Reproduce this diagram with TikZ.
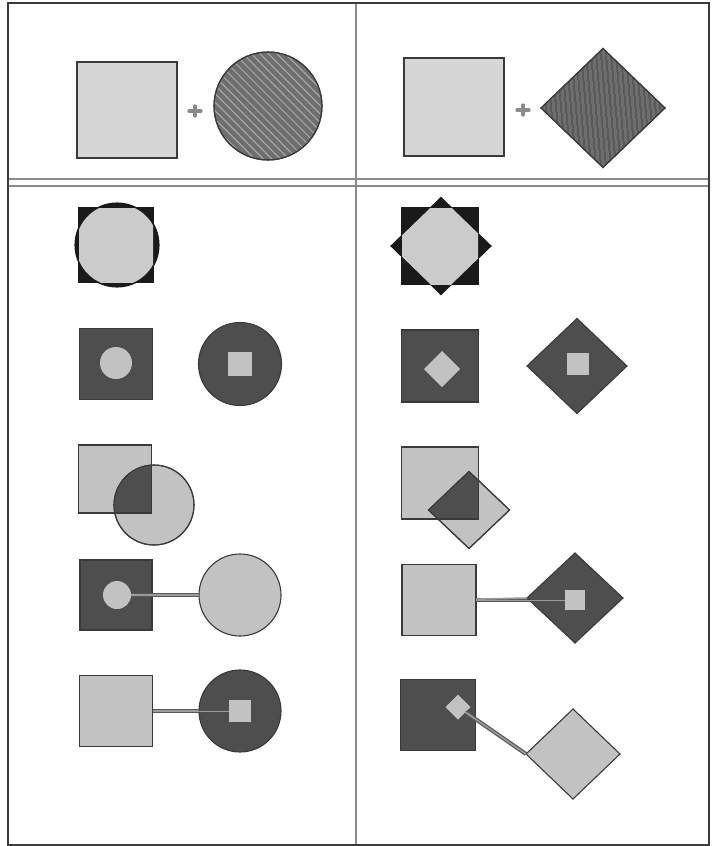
\documentclass[tikz,border=0pt]{standalone}
\usetikzlibrary{shapes.geometric,patterns,patterns.meta}
\definecolor{lite}{HTML}{C2C2C2}
\definecolor{litetop}{HTML}{D6D6D6}
\definecolor{dark}{HTML}{4E4E4E}
\definecolor{blk}{HTML}{1A1A1A}
\definecolor{edge}{HTML}{3A3A3A}
\definecolor{framec}{HTML}{8A8A8A}
\definecolor{hatchbg}{HTML}{6E6E6E}
\definecolor{linkc}{HTML}{9A9A9A}
\begin{document}
\begin{tikzpicture}[x=1pt,y=-1pt,
  shp/.style={draw=edge,line width=1.1pt,inner sep=0pt,outer sep=0pt},
  sqr/.style={shp,rectangle,minimum width=#1,minimum height=#1},
  crc/.style={shp,circle,minimum size=#1},
  dia/.style={shp,diamond,minimum width=#1,minimum height=#1},
  linkout/.style={draw=edge!85,line width=4pt},
  linkin/.style={draw=linkc,line width=1.6pt},
  plus/.style={draw=framec,line width=3.2pt,line cap=round}]
\useasboundingbox (0,0) rectangle (712,846);
% frame
\draw[framec,line width=1.2pt] (356,3) -- (356,845);
\draw[framec,line width=1.2pt] (8,179) -- (709,179);
\draw[framec,line width=1.2pt] (8,186) -- (709,186);
\draw[edge,line width=1.6pt] (8,3) rectangle (709,845);

% ---------- top left ----------
\node[shp,rectangle,fill=litetop,minimum width=100pt,minimum height=96pt] (tlsq) at (127,110) {};
\node[crc=108pt,fill=hatchbg] (tlc) at (268,106) {};
\fill[pattern={Lines[angle=-45,distance=6pt,line width=1pt]},pattern color=gray!65] (tlc.center) circle[radius=53];
\draw[edge,line width=1.1pt] (tlc.center) circle[radius=54];
\draw[plus] (189,111) -- (201,111); \draw[plus] (195,106) -- (195,116);

% ---------- top right ----------
\node[shp,rectangle,fill=litetop,minimum width=100pt,minimum height=98pt] (trsq) at (454,107) {};
\node[shp,diamond,fill=hatchbg,minimum width=124pt,minimum height=119pt] (trd) at (603,108) {};
\begin{scope}
\clip (trd.north) -- (trd.east) -- (trd.south) -- (trd.west) -- cycle;
\fill[pattern={Lines[angle=95,distance=4pt,line width=0.8pt]},pattern color=gray!40!black] (540,45) rectangle (668,170);
\end{scope}
\draw[edge,line width=1.1pt] (trd.north) -- (trd.east) -- (trd.south) -- (trd.west) -- cycle;
\draw[plus] (517,110) -- (529,110); \draw[plus] (523,105) -- (523,115);

% ---------- row 1 ----------
\node[sqr=74pt,fill=blk,draw=blk] (r1lsq) at (116,245) {};
\node[crc=84pt,fill=blk,draw=blk] (r1lc) at (117,245) {};
\begin{scope}
\clip (r1lsq.north west) rectangle (r1lsq.south east);
\fill[lite!85] (r1lc.center) circle[radius=41];
\end{scope}

\node[sqr=76pt,fill=blk,draw=blk] (r1rsq) at (440,246) {};
\node[shp,diamond,fill=blk,draw=blk,minimum width=100pt,minimum height=97pt] (r1rd) at (441,246) {};
\begin{scope}
\clip (r1rsq.north west) rectangle (r1rsq.south east);
\fill[lite!85] (r1rd.north) -- (r1rd.east) -- (r1rd.south) -- (r1rd.west) -- cycle;
\end{scope}

% ---------- row 2 ----------
\node[shp,rectangle,fill=dark,minimum width=73pt,minimum height=71pt] (r2lsq) at (116,364) {};
\node[crc=32pt,fill=lite,draw=none] (r2lc) at (116,363) {};
\node[crc=83pt,fill=dark] (r2lbc) at (240,364) {};
\node[sqr=24pt,fill=lite,draw=none] (r2lis) at (240,364) {};

\node[shp,rectangle,fill=dark,minimum width=77pt,minimum height=72pt] (r2rsq) at (440,366) {};
\node[dia=36pt,fill=lite,draw=none] (r2rd) at (442,369) {};
\node[shp,diamond,fill=dark,minimum width=100pt,minimum height=95pt] (r2rbd) at (577,366) {};
\node[sqr=22pt,fill=lite,draw=none] (r2ris) at (578,364) {};

% ---------- row 3 ----------
\node[shp,rectangle,fill=lite,minimum width=73pt,minimum height=68pt] (r3lsq) at (115,479) {};
\node[crc=80pt,fill=lite] (r3lc) at (154,505) {};
\begin{scope}
\clip (r3lsq.north west) rectangle (r3lsq.south east);
\fill[dark] (r3lc.center) circle[radius=40];
\end{scope}
\draw[edge,line width=1.1pt] (r3lsq.north west) rectangle (r3lsq.south east);
\draw[edge,line width=1.1pt] (r3lc.center) circle[radius=40];

\node[shp,rectangle,fill=lite,minimum width=77pt,minimum height=72pt] (r3rsq) at (440,483) {};
\node[shp,diamond,fill=lite,minimum width=81pt,minimum height=77pt] (r3rd) at (469,510) {};
\begin{scope}
\clip (r3rsq.north west) rectangle (r3rsq.south east);
\fill[dark] (r3rd.north) -- (r3rd.east) -- (r3rd.south) -- (r3rd.west) -- cycle;
\end{scope}
\draw[edge,line width=1.1pt] (r3rsq.north west) rectangle (r3rsq.south east);
\draw[edge,line width=1.1pt] (r3rd.north) -- (r3rd.east) -- (r3rd.south) -- (r3rd.west) -- cycle;

% ---------- row 4 ----------
\node[shp,rectangle,fill=dark,minimum width=72pt,minimum height=70pt] (r4lsq) at (116,595) {};
\node[crc=28pt,fill=lite,draw=none] (r4lc) at (117,595) {};
\node[crc=82pt,fill=lite] (r4lbc) at (240,595) {};
\draw[linkout] (r4lc) -- (r4lbc);
\draw[linkin] (r4lc) -- (r4lbc);

\node[shp,rectangle,fill=lite,minimum width=74pt,minimum height=71pt] (r4rsq) at (439,600) {};
\coordinate (r4rc) at (575,600);
\draw[linkout] (r4rsq) -- (r4rc);
\node[shp,diamond,fill=dark,minimum width=96pt,minimum height=90pt] (r4rd) at (575,598) {};
\draw[linkin] (r4rsq) -- (r4rd.west);
\node[sqr=20pt,fill=lite,draw=none] (r4ris) at (r4rc) {};
\draw[linkc,line width=0.8pt] (r4rsq) -- (r4ris);

% ---------- row 5 ----------
\node[shp,rectangle,fill=lite,minimum width=73pt,minimum height=71pt] (r5lsq) at (116,711) {};
\coordinate (r5lcc) at (240,711);
\draw[linkout] (r5lsq) -- (r5lcc);
\node[crc=82pt,fill=dark] (r5lc) at (r5lcc) {};
\draw[linkin] (r5lsq) -- (r5lc);
\node[sqr=22pt,fill=lite,draw=none] (r5lis) at (r5lcc) {};
\draw[linkc,line width=0.8pt] (r5lsq) -- (r5lis);

\node[shp,rectangle,fill=dark,minimum width=75pt,minimum height=71pt] (r5rsq) at (438,715) {};
\node[dia=25pt,fill=lite,draw=none] (r5rd) at (458,707) {};
\node[shp,diamond,fill=lite,minimum width=94pt,minimum height=90pt] (r5rbd) at (573,754) {};
\draw[linkout] (r5rd) -- (r5rbd.west);
\draw[linkin] (r5rd) -- (r5rbd.west);
\end{tikzpicture}
\end{document}
